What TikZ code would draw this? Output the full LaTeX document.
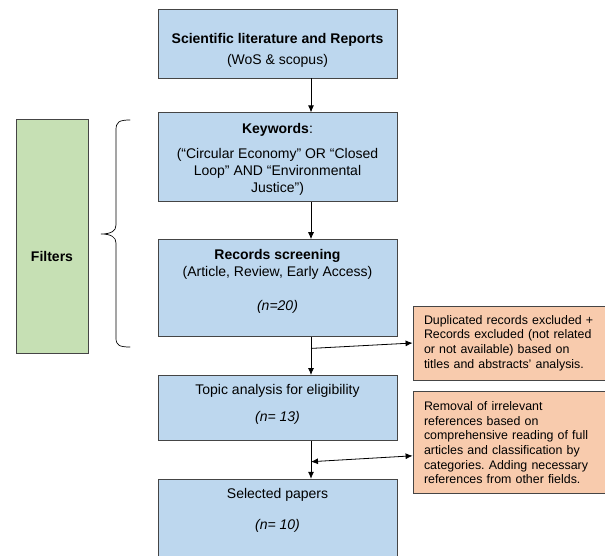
\documentclass[tikz,border=0pt]{standalone}
\usepackage{fontspec}
\setmainfont{Liberation Sans}
\usetikzlibrary{positioning,calc,arrows.meta}
\definecolor{stageblue}{HTML}{BDD7EE}
\definecolor{excludeorange}{HTML}{F8CBAD}
\definecolor{filtergreen}{HTML}{C6E0B4}
\definecolor{boxline}{HTML}{454545}
\newcommand{\padtop}[1]{\rule{0pt}{#1}}
\newcommand{\padbot}[1]{\rule[-#1]{0pt}{#1}}
\frenchspacing

\begin{document}
\begin{tikzpicture}[
							x = 1pt,
							y = -1pt,
							stage/.style = {
								draw = boxline,
								fill = stageblue,
								rectangle,
								line width = 0.8pt,
								minimum width = 239pt,
								inner sep = 0pt,
								align = center,
								font = \fontsize{14}{17}\selectfont,
							},
							excluded/.style = {
								draw = boxline,
								fill = excludeorange,
								rectangle,
								line width = 0.8pt,
								text width = 170pt,
								inner xsep = 11pt,
								inner ysep = 0pt,
								align = left,
								font = \fontsize{12.4}{14.6}\selectfont,
							},
							filterbox/.style = {
								draw = boxline,
								fill = filtergreen,
								rectangle,
								line width = 0.8pt,
								minimum width = 72pt,
								minimum height = 234pt,
								align = center,
								font = \fontsize{14}{17}\selectfont,
							},
							flow/.style = {
								-{Latex[length = 7pt, width = 6pt]},
								line width = 0.8pt,
							},
							twoway/.style = {
								{Latex[length = 7pt, width = 6pt]}-{Latex[length = 7pt, width = 6pt]},
								line width = 0.8pt,
							}
						]
					\useasboundingbox (0,0) rectangle (605,555);

					\node [stage, minimum height = 69pt] (sources) at (277.5,43.5) {\padtop{25pt}\textbf{Scientific literature and Reports}\\[4pt](WoS \& scopus)\padbot{4pt}};
					\node [stage, minimum height = 89pt, below = 34pt of sources] (keywords) {\padtop{15pt}\textbf{Keywords}:\\[8pt](“Circular Economy” OR “Closed\\Loop” AND “Environmental\\Justice”)\padbot{4pt}};
					\node [stage, minimum height = 97pt, below = 37pt of keywords] (screening) {\padtop{11pt}\textbf{Records screening}\\(Article, Review, Early Access)\\[17pt]\textit{(n=20)}\padbot{18pt}};
					\node [stage, minimum height = 65pt, below = 38pt of screening] (topic) {\padtop{11pt}Topic analysis for eligibility\\[9.5pt]\textit{(n= 13)}\padbot{10.5pt}};
					\node [stage, minimum height = 90pt, below = 38pt of topic] (selected) {\padtop{11pt}Selected papers\\[14.5pt]\textit{(n= 10)}\padbot{31.5pt}};

					\node [excluded, minimum height = 74pt] (dupExcl) at (509,343) {Duplicated records excluded +\\Records excluded (not related\\or not available) based on\\titles and abstracts’ analysis.};
					\node [excluded, minimum height = 102pt, below = 11pt of dupExcl] (irrelExcl) {Removal of irrelevant\\references based on\\comprehensive reading of full\\articles and classification by\\categories. Adding necessary\\references from other fields.};

					\node [filterbox] (filters) at (52,236) {\mbox{}\\[35pt]\textbf{Filters}};

					\coordinate (spine) at (311,0);
					\coordinate (split1) at ($(screening.south -| spine)!0.3!(topic.north -| spine)$);
					\coordinate (split2) at ($(topic.south -| spine)!0.55!(selected.north -| spine)$);
					\coordinate (irrelIn) at ($(irrelExcl.west)+(0,13)$);

					\draw [flow] (sources.south -| spine) to (keywords.north -| spine);
					\draw [flow] (keywords.south -| spine) to (screening.north -| spine);
					\draw [flow] (screening.south -| spine) to (topic.north -| spine);
					\draw [flow] (topic.south -| spine) to (selected.north -| spine);

					\draw [flow] (split1) to (dupExcl.west);
					\draw [twoway] (split2) to (irrelIn);

					% brace grouping the filter stages
					\draw [line width = 0.7pt, line cap = round]
						(130,120) .. controls (119,120) and (116,122) .. (116,130)
						-- (116,225) .. controls (116,231) and (111,234) .. (101,234)
						.. controls (111,234) and (116,237) .. (116,243)
						-- (116,338) .. controls (116,345) and (119,347) .. (130,347);
				\end{tikzpicture}
\end{document}
